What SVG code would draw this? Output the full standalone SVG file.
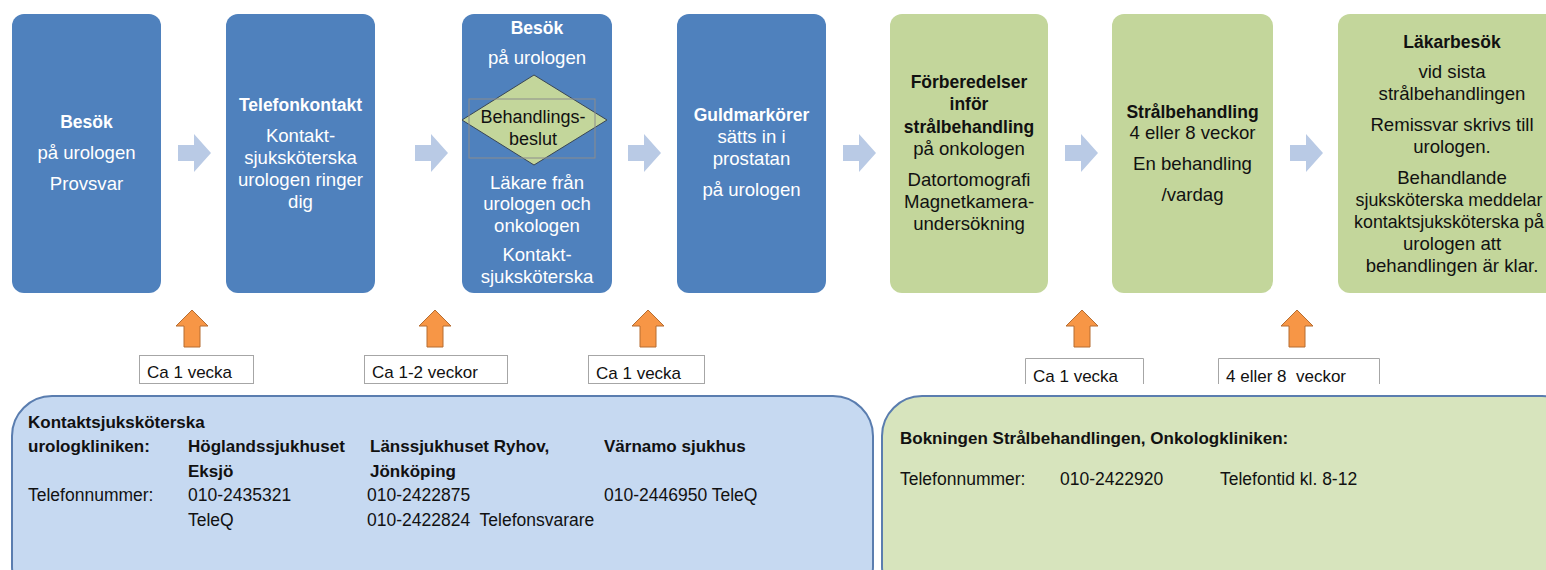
<svg xmlns="http://www.w3.org/2000/svg" width="1546" height="570" viewBox="0 0 1546 570">
<defs>
<style>
text{font-family:"Liberation Sans",Arial,sans-serif}
.blue{fill:#4F81BD}
.green{fill:#C3D69B}
.w{fill:#fff;font-size:18.6px;text-anchor:middle}
.k{fill:#111;font-size:18.6px;text-anchor:middle}
.b{font-weight:bold;font-size:17.5px}
.rarr{fill:#B9CAE5}
.uarr{fill:#F79646;stroke:#B66D31;stroke-width:1}
.lbl{fill:#fff;stroke:#A6A6A6;stroke-width:1}
.lt{fill:#111;font-size:17px}
.pt{fill:#111;font-size:17.5px}
.pb{font-weight:bold;font-size:17px}
</style>
<path id="ra" d="M0,-8 H16 V-19 L33,0 L16,19 V8 H0 Z"/>
<path id="ua" d="M0,-37 L16,-21 H8 V0 H-8 V-21 H-16 Z"/>
</defs>

<g id="connectors">
<use href="#ra" class="rarr" x="178" y="153"/>
<use href="#ra" class="rarr" x="415" y="153"/>
<use href="#ra" class="rarr" x="628" y="153"/>
<use href="#ra" class="rarr" x="843" y="153"/>
<use href="#ra" class="rarr" x="1065" y="153"/>
<use href="#ra" class="rarr" x="1290" y="153"/>
<use href="#ua" class="uarr" x="192" y="347"/>
<use href="#ua" class="uarr" x="435" y="347"/>
<use href="#ua" class="uarr" x="648" y="347"/>
<use href="#ua" class="uarr" x="1082" y="347"/>
<use href="#ua" class="uarr" x="1297" y="347"/>
</g>

<g id="box1">
<rect class="blue" x="12" y="14" width="149" height="279" rx="12"/>
<text class="w b" x="86.5" y="128">Besök</text>
<text class="w" x="86.5" y="159">på urologen</text>
<text class="w" x="86.5" y="190">Provsvar</text>
</g>

<g id="box2">
<rect class="blue" x="226" y="14" width="149" height="279" rx="12"/>
<text class="w b" x="300.5" y="111">Telefonkontakt</text>
<text class="w" x="300.5" y="142">Kontakt-</text>
<text class="w" x="300.5" y="164">sjuksköterska</text>
<text class="w" x="300.5" y="186">urologen ringer</text>
<text class="w" x="300.5" y="208">dig</text>
</g>

<g id="box3">
<rect class="blue" x="462" y="14" width="150" height="279" rx="12"/>
<text class="w b" x="537" y="34">Besök</text>
<text class="w" x="537" y="64">på urologen</text>
<text class="w" x="537" y="189">Läkare från</text>
<text class="w" x="537" y="210">urologen och</text>
<text class="w" x="537" y="232">onkologen</text>
<text class="w" x="537" y="261">Kontakt-</text>
<text class="w" x="537" y="283">sjuksköterska</text>
</g>

<g id="decision">
<path d="M534,75 L607,120 L534,165 L462,120 Z" fill="#C3D69B" stroke="#3A4654" stroke-width="1"/>
<rect x="469" y="99" width="126" height="59" fill="none" stroke="#8C8C8C" stroke-width="1"/>
<text class="k" x="533" y="123" style="font-size:18px">Behandlings-</text>
<text class="k" x="533" y="145" style="font-size:18px">beslut</text>
</g>

<g id="box4">
<rect class="blue" x="677" y="14" width="149" height="279" rx="12"/>
<text class="w b" x="751.5" y="121">Guldmarkörer</text>
<text class="w" x="751.5" y="143">sätts in i</text>
<text class="w" x="751.5" y="165">prostatan</text>
<text class="w" x="751.5" y="196">på urologen</text>
</g>

<g id="box5">
<rect class="green" x="890" y="14" width="158" height="279" rx="12"/>
<text class="k b" x="969" y="88">Förberedelser</text>
<text class="k b" x="969" y="110">inför</text>
<text class="k b" x="969" y="133">strålbehandling</text>
<text class="k" x="969" y="155">på onkologen</text>
<text class="k" x="969" y="186">Datortomografi</text>
<text class="k" x="969" y="208">Magnetkamera-</text>
<text class="k" x="969" y="230">undersökning</text>
</g>

<g id="box6">
<rect class="green" x="1112" y="14" width="161" height="279" rx="12"/>
<text class="k b" x="1192.5" y="118">Strålbehandling</text>
<text class="k" x="1192.5" y="139">4 eller 8 veckor</text>
<text class="k" x="1192.5" y="170">En behandling</text>
<text class="k" x="1192.5" y="201">/vardag</text>
</g>

<g id="box7">
<rect class="green" x="1338" y="14" width="240" height="279" rx="12"/>
<text class="k b" x="1452" y="48">Läkarbesök</text>
<text class="k" x="1452" y="78">vid sista</text>
<text class="k" x="1452" y="100">strålbehandlingen</text>
<text class="k" x="1452" y="131">Remissvar skrivs till</text>
<text class="k" x="1452" y="153">urologen.</text>
<text class="k" x="1452" y="184">Behandlande</text>
<text class="k" x="1449" y="206" style="font-size:17.8px">sjuksköterska meddelar</text>
<text class="k" x="1449" y="228" style="font-size:17.8px">kontaktsjuksköterska på</text>
<text class="k" x="1452" y="250">urologen att</text>
<text class="k" x="1452" y="272">behandlingen är klar.</text>
</g>

<g id="label1">
<rect class="lbl" x="139.5" y="355.5" width="114" height="28"/>
<text class="lt" x="147" y="378">Ca 1 vecka</text>
</g>
<g id="label2">
<rect class="lbl" x="364.5" y="355.5" width="143" height="28"/>
<text class="lt" x="372" y="378">Ca 1-2 veckor</text>
</g>
<g id="label3">
<rect class="lbl" x="588.5" y="355.5" width="116" height="28"/>
<text class="lt" x="596" y="379">Ca 1 vecka</text>
</g>
<g id="label4">
<path class="lbl" d="M1025.5,384 V358.5 H1143.5 V384"/>
<text class="lt" x="1033" y="382">Ca 1 vecka</text>
</g>
<g id="label5">
<path class="lbl" d="M1218.5,384 V358.5 H1379.5 V384"/>
<text class="lt" x="1226" y="382">4 eller 8&#160; veckor</text>
</g>

<g id="panel-urologi">
<rect x="12" y="396" width="861" height="210" rx="40" fill="#C6D9F1" stroke="#5A7DAF" stroke-width="2"/>
<text class="pt pb" x="28" y="428">Kontaktsjuksköterska</text>
<text class="pt pb" x="28" y="452">urologkliniken:</text>
<text class="pt pb" x="188" y="452">Höglandssjukhuset</text>
<text class="pt pb" x="370" y="452">Länssjukhuset Ryhov,</text>
<text class="pt pb" x="604" y="452">Värnamo sjukhus</text>
<text class="pt pb" x="188" y="477">Eksjö</text>
<text class="pt pb" x="370" y="477">Jönköping</text>
<text class="pt" x="28" y="501">Telefonnummer:</text>
<text class="pt" x="188" y="501">010-2435321</text>
<text class="pt" x="367" y="501">010-2422875</text>
<text class="pt" x="604" y="501">010-2446950 TeleQ</text>
<text class="pt" x="188" y="526">TeleQ</text>
<text class="pt" x="367" y="526">010-2422824&#160; Telefonsvarare</text>
</g>

<g id="panel-onkologi">
<rect x="882" y="396" width="700" height="210" rx="40" fill="#D7E4BD" stroke="#5A7DAF" stroke-width="2"/>
<text class="pt pb" x="900" y="444">Bokningen Strålbehandlingen, Onkologkliniken:</text>
<text class="pt" x="900" y="485">Telefonnummer:</text>
<text class="pt" x="1060" y="485">010-2422920</text>
<text class="pt" x="1220" y="485">Telefontid kl. 8-12</text>
</g>
</svg>
